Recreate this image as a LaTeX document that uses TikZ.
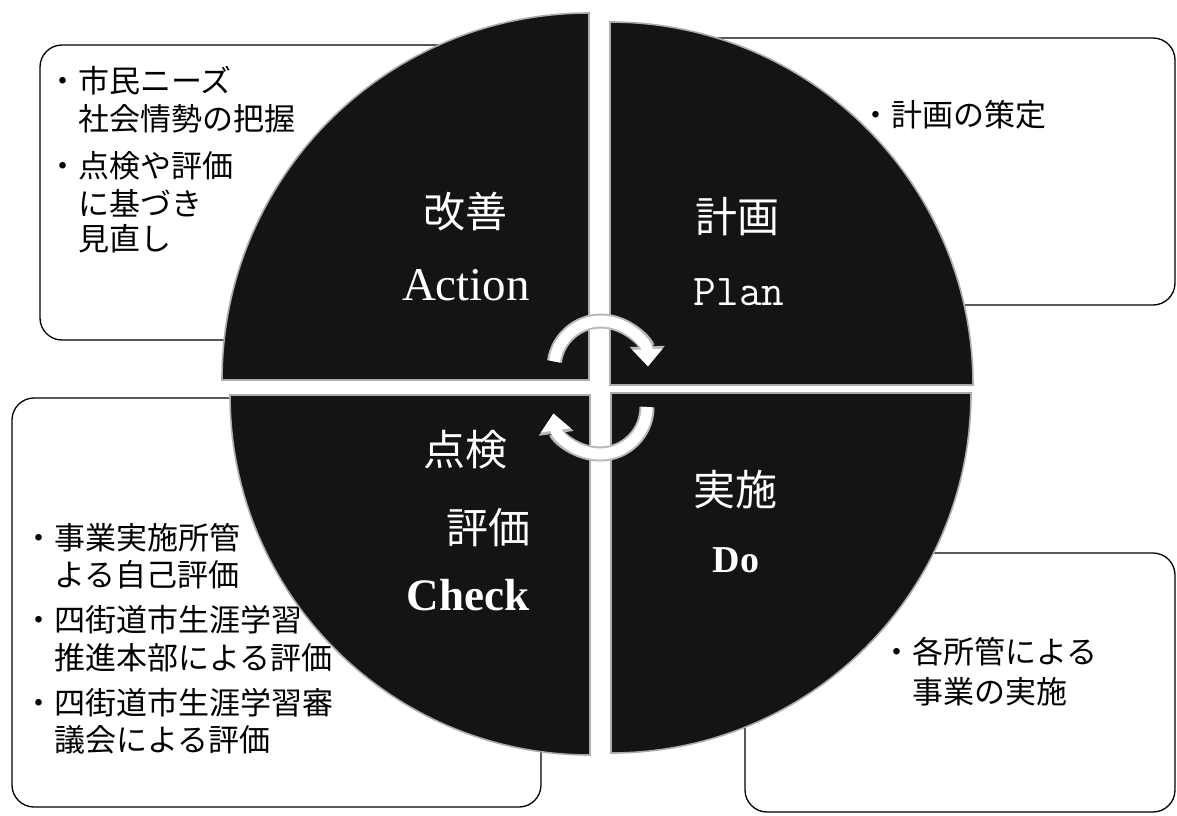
\documentclass[tikz,border=0pt]{standalone}
\usepackage{fontspec}
\setmainfont{Liberation Serif}
\newfontfamily\jp{Noto Sans CJK JP}
\usetikzlibrary{arrows.meta}
\begin{document}
\begin{tikzpicture}[x=1pt,y=1pt,
  infobox/.style={draw=black, line width=1.3pt, fill=white, rounded corners=22pt},
  quad/.style={fill=black!92, draw=gray!65, line width=1.6pt},
  boxtext/.style={anchor=west, inner sep=0pt, text=black, font=\jp\fontsize{31}{37}\selectfont},
  jplabel/.style={inner sep=0pt, text=white, font=\jp\fontsize{42}{48}\selectfont},
  enlabel/.style={inner sep=0pt, anchor=base, text=white},
  cycunder/.style={line width=15pt, draw=gray!55, -{Triangle[width=34pt,length=20pt]}},
  cycarrow/.style={line width=11pt, draw=white, -{Triangle[width=29pt,length=17pt]}}]
\useasboundingbox (0,0) rectangle (1177,-815);
\fill[white] (0,0) rectangle (1177,-815);

% text boxes (behind the circle)
\draw[infobox] (40,-45) rectangle (520,-340);
\draw[infobox] (680,-38) rectangle (1175,-305);
\draw[infobox] (12,-398) rectangle (541,-807);
\draw[infobox] (745,-553) rectangle (1175,-812);

% box texts
\node[boxtext] (a1) at (47,-81) {・市民ニーズ};
\node[boxtext] (a2) at (78,-119) {社会情勢の把握};
\node[boxtext] (a3) at (47,-166) {・点検や評価};
\node[boxtext] (a4) at (78,-203) {に基づき};
\node[boxtext] (a5) at (78,-239) {見直し};

\node[boxtext] (p1) at (860,-115) {・計画の策定};

\node[boxtext] (d1) at (881,-652) {・各所管による};
\node[boxtext] (d2) at (912,-692) {事業の実施};

\node[boxtext] (c1) at (23,-538) {・事業実施所管};
\node[boxtext] (c2) at (54,-575) {よる自己評価};
\node[boxtext] (c3) at (23,-620) {・四街道市生涯学習};
\node[boxtext] (c4) at (54,-658) {推進本部による評価};
\node[boxtext] (c5) at (23,-703) {・四街道市生涯学習審};
\node[boxtext] (c6) at (54,-740) {議会による評価};

% quadrants
\path[quad] (589,-380) -- (222,-380) arc[start angle=180,end angle=90,radius=367] -- cycle;
\path[quad] (610,-385) -- (610,-22) arc[start angle=90,end angle=0,radius=363] -- cycle;
\path[quad] (611,-393) -- (971,-393) arc[start angle=0,end angle=-90,radius=360] -- cycle;
\path[quad] (590,-395) -- (590,-755) arc[start angle=270,end angle=180,radius=360] -- cycle;

% labels
\node[jplabel] (actjp) at (465,-212) {改善};
\node[enlabel, font=\fontsize{47}{50}\selectfont] (acten) at (466,-300) {Action};
\node[jplabel] (planjp) at (737,-217) {計画};
\node[enlabel, font=\ttfamily\fontsize{44}{48}\selectfont] (planen) at (739,-305) {Plan};
\node[jplabel] (chkjp1) at (465,-450) {点検};
\node[jplabel] (chkjp2) at (488,-528) {評価};
\node[enlabel, font=\bfseries\fontsize{45}{48}\selectfont] (chken) at (468,-610) {Check};
\node[jplabel] (dojp) at (735,-490) {実施};
\node[enlabel, font=\bfseries\fontsize{38}{42}\selectfont] (doen) at (736,-572) {Do};

% cycle arrows
\coordinate (ctop) at (601,-368);
\coordinate (cbot) at (600,-407);
\draw[cycunder] (ctop) ++(172:47) arc[start angle=172,end angle=2,radius=47];
\draw[cycarrow] (ctop) ++(172:47) arc[start angle=172,end angle=2,radius=47];
\draw[cycunder] (cbot) ++(0:47) arc[start angle=0,end angle=-172,radius=47];
\draw[cycarrow] (cbot) ++(0:47) arc[start angle=0,end angle=-172,radius=47];
\end{tikzpicture}
\end{document}
